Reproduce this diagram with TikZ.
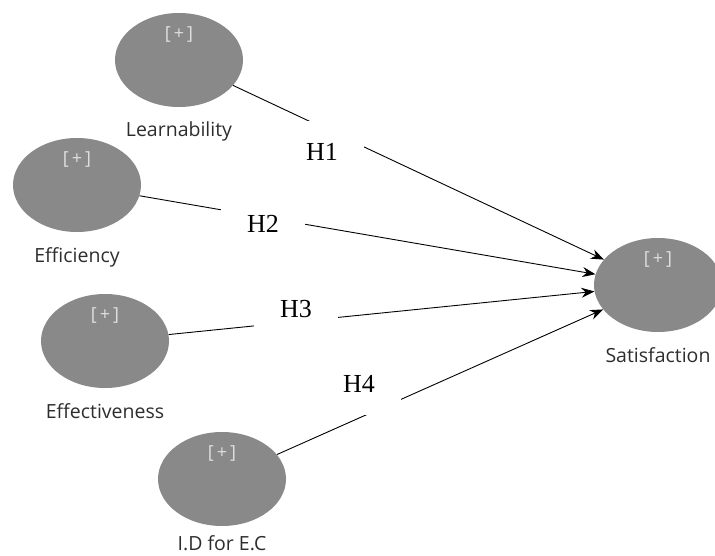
\documentclass[tikz,border=0pt]{standalone}
\usepackage{fontspec}
\setmainfont{Liberation Serif}
\newfontfamily\uifont{Open Sans}
\usetikzlibrary{shapes.geometric,arrows.meta,positioning}
\definecolor{latentgray}{RGB}{137,137,137}
\definecolor{plusgray}{RGB}{222,222,222}
\definecolor{namegray}{RGB}{45,45,45}

\begin{document}
\begin{tikzpicture}[x=1pt,y=-1pt,
	latent/.style={ellipse,fill=latentgray,minimum width=128pt,minimum height=94pt,inner sep=0pt},
	plus/.style={text=plusgray,inner sep=0pt,font=\uifont\fontsize{18}{18}\selectfont},
	lvname/.style={text=namegray,inner sep=0pt,font=\uifont\fontsize{19.5}{22}\selectfont},
	hyp/.style={fill=white,minimum width=84pt,minimum height=62pt,font=\fontsize{26}{30}\selectfont},
	link/.style={-{Stealth[length=13pt,width=10pt]},line width=0.9pt}]
	\useasboundingbox (0,0) rectangle (715,555);
	% latent variables
	\node [latent] (learn) at (179,60) {};
	\node [latent] (effic) at (77,185) {};
	\node [latent] (effec) at (105,341) {};
	\node [latent] (idec) at (222,479) {};
	\node [latent] (satis) at (658,285) {};
	\foreach \lv in {learn,effic,effec,idec,satis}
		\node [plus,anchor=north] (\lv-plus) at ([yshift=-14pt]\lv.north) {[\,+\,]};
	\node [lvname,below=14pt of learn] (learn-name) {Learnability};
	\node [lvname,below=15pt of effic] (effic-name) {Efficiency};
	\node [lvname,below=15pt of effec] (effec-name) {Effectiveness};
	\node [lvname,below=9pt of idec] (idec-name) {I.D for E.C};
	\node [lvname,below=15pt of satis] (satis-name) {Satisfaction};
	% paths
	\draw [link] (learn) -- (satis);
	\draw [link] (effic) -- (satis);
	\draw [link] (effec) -- (satis);
	\draw [link] (idec) -- (satis);
	% hypotheses
	\node [hyp] (h1) at (322,152) {H1};
	\node [hyp] (h2) at (263,224) {H2};
	\node [hyp] (h3) at (296,309) {H3};
	\node [hyp] (h4) at (359,384) {H4};
\end{tikzpicture}
\end{document}
